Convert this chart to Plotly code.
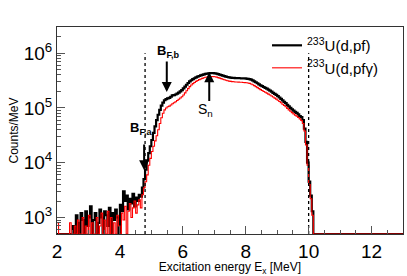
import math
import numpy as np
import plotly.graph_objects as go

# ---------------- data ----------------
bin_width = 0.05          # MeV
e_start = 2.0
n_bins = 220
energy = e_start + bin_width * (np.arange(n_bins) + 0.5)

counts_pf = [
    0, 0, 0, 0, 0, 0, 0, 0, 0, 0,
    700, 0, 1100, 800, 0, 1200, 900, 0, 1300, 700,
    1000, 1600, 0, 900, 1200, 0, 800, 1400, 1000, 0,
    1300, 1100, 700, 1500, 0, 1200, 900, 1400, 1000, 0,
    1700, 1300, 3000, 2000, 2500, 1400, 2200, 1800, 2700, 1600,
    2300, 2000, 2600, 2400, 3500, 5000, 7500, 11000, 15000, 20000,
    26000, 35000, 46000, 60000, 75000, 92000, 110000, 125000, 138000, 145000,
    150000, 152000, 160000, 170000, 172000, 176000, 182000, 190000, 200000, 212000,
    228000, 245000, 265000, 285000, 305000, 320000, 335000, 348000, 360000, 372000,
    383000, 393000, 402000, 410000, 418000, 424000, 428000, 431000, 432000, 430000,
    427000, 422000, 414000, 405000, 396000, 388000, 380000, 373000, 367000, 362000,
    358000, 355000, 353000, 351000, 350000, 349000, 348000, 347000, 346000, 345000,
    343000, 340000, 336000, 328000, 318000, 306000, 294000, 282000, 270000, 259000,
    250000, 241000, 233000, 225000, 216000, 207000, 198000, 189000, 181000, 173000,
    164000, 155000, 146000, 137000, 129000, 122000, 114000, 107000, 100000, 94000,
    89000, 85000, 81000, 76000, 71000, 68000, 60000, 42000, 24000, 10000,
    4500, 2500, 1300,
] + [0] * 57

counts_pfg = [
    800, 0, 0, 0, 0, 0, 0, 0, 800, 0,
    0, 700, 0, 900, 0, 0, 1000, 0, 700, 0,
    1100, 0, 800, 0, 0, 1000, 0, 700, 1200, 0,
    900, 0, 1300, 0, 1000, 0, 800, 0, 1100, 700,
    0, 1200, 900, 1600, 0, 1300, 1800, 1000, 1500, 2000,
    1200, 1700, 2100, 1500, 2600, 3500, 4500, 6000, 9000, 12000,
    16000, 20000, 25000, 31000, 40000, 52000, 66000, 80000, 92000, 100000,
    105000, 108000, 113000, 119000, 124000, 130000, 137000, 144000, 152000, 160000,
    172000, 188000, 206000, 225000, 245000, 262000, 278000, 292000, 305000, 317000,
    328000, 338000, 347000, 355000, 362000, 367000, 371000, 374000, 375000, 373000,
    370000, 365000, 358000, 350000, 342000, 334000, 327000, 320000, 314000, 309000,
    305000, 302000, 300000, 298000, 297000, 296000, 295000, 294000, 292000, 290000,
    288000, 285000, 281000, 274000, 265000, 255000, 245000, 235000, 225000, 216000,
    208000, 200000, 193000, 186000, 179000, 172000, 165000, 158000, 151000, 145000,
    138000, 131000, 124000, 117000, 111000, 105000, 98000, 92000, 87000, 82000,
    78000, 74000, 71000, 67000, 63000, 59000, 52000, 38000, 21000, 9000,
    4000, 2200, 1100,
] + [0] * 57

series_names = ["<sup>233</sup>U(d,pf)", "<sup>233</sup>U(d,pf\u03b3)"]
series_colors = ["#000000", "#ff0000"]

# threshold markers (dotted lines), MeV
threshold_energies = [4.8, 10.0]
threshold_top = 1.0e6

# arrow annotations
arrow_labels = ["B<sub>F,a</sub>", "B<sub>F,b</sub>", "S<sub>n</sub>"]
arrow_x = [4.77, 5.49, 6.84]
arrow_tip = [7.3e3, 1.95e5, 4.5e5]
arrow_tail = [2.3e4, 7.5e5, 1.25e5]
label_x = [4.67, 5.53, 6.72]
label_y = [4.3e4, 1.05e6, 9.0e4]
label_bold = [True, True, False]

x_range = [2, 13]
y_min, y_max = 500, 3.0e6
y_tickvals = [1e3, 1e4, 1e5, 1e6]
y_ticktext = ["10<sup>3</sup>", "10<sup>4</sup>", "10<sup>5</sup>", "10<sup>6</sup>"]
y_minor_vals = [m * 10 ** d for d in range(2, 7) for m in range(2, 10)]

FONT = "Liberation Sans, Arial, sans-serif"

# ---------------- figure ----------------
fig = go.Figure()

for vals, name, col, w in zip([counts_pf, counts_pfg], series_names, series_colors, [2.2, 1.1]):
    yv = np.maximum(np.array(vals, dtype=float), y_min)  # ROOT draws empty bins at frame minimum
    xs = np.append(energy - bin_width / 2, energy[-1] + bin_width / 2)
    ys = np.append(yv, yv[-1])
    fig.add_trace(go.Scatter(
        x=xs, y=ys, mode="lines", name=name,
        line=dict(color=col, width=w, shape="hv"),
    ))

for e in threshold_energies:
    fig.add_trace(go.Scatter(
        x=[e, e], y=[y_min, threshold_top], mode="lines", showlegend=False,
        line=dict(color="black", width=1.3, dash="dot"), hoverinfo="skip",
    ))

for lab, ax_, tip, tail, lx, ly, bold in zip(arrow_labels, arrow_x, arrow_tip, arrow_tail,
                                              label_x, label_y, label_bold):
    fig.add_annotation(
        x=ax_, y=math.log10(tip), ax=ax_, ay=math.log10(tail),
        xref="x", yref="y", axref="x", ayref="y",
        showarrow=True, arrowhead=2, arrowsize=1.0, arrowwidth=2, arrowcolor="black",
        text="",
    )
    fig.add_annotation(
        x=lx, y=math.log10(ly), xref="x", yref="y", showarrow=False,
        text=("<b>%s</b>" % lab) if bold else lab,
        font=dict(size=14 if not bold else 13, color="black", family=FONT),
        xanchor="center", yanchor="middle",
    )

axis_common = dict(
    showline=True, linecolor="#333333", linewidth=1, mirror=True,
    ticks="inside", tickcolor="#555555", showgrid=False, zeroline=False,
    tickfont=dict(size=19, color="black", family=FONT),
)

fig.update_xaxes(
    range=x_range, dtick=2, tick0=2, ticklen=8,
    minor=dict(dtick=0.5, ticklen=4, ticks="inside", tickcolor="#555555"),
    title=dict(text="Excitation energy E<sub>x</sub> [MeV]",
               font=dict(size=12, color="black", family=FONT),
               standoff=2),
    **axis_common,
)
fig.update_yaxes(
    type="log", range=[math.log10(y_min), math.log10(y_max)],
    tickmode="array", tickvals=y_tickvals, ticktext=y_ticktext, ticklen=8,
    minor=dict(tickmode="array", tickvals=y_minor_vals, ticklen=4, ticks="inside",
               tickcolor="#555555", showgrid=False),
    title=dict(text="Counts/MeV",
               font=dict(size=12, color="black", family=FONT),
               standoff=2),
    **axis_common,
)

fig.update_layout(
    width=407, height=276,
    margin=dict(l=57, r=4, t=27, b=42),
    paper_bgcolor="white", plot_bgcolor="white",
    font=dict(family=FONT, color="black"),
    showlegend=True,
    legend=dict(
        x=0.607, y=0.99, xanchor="left", yanchor="top",
        bgcolor="rgba(255,255,255,0)", borderwidth=0,
        font=dict(size=15, color="black"),
        itemwidth=30, tracegroupgap=0,
    ),
)

fig.write_html("out.html", config={"displayModeBar": False},
               post_script="document.body.style.margin='0';document.body.style.overflow='hidden';")
